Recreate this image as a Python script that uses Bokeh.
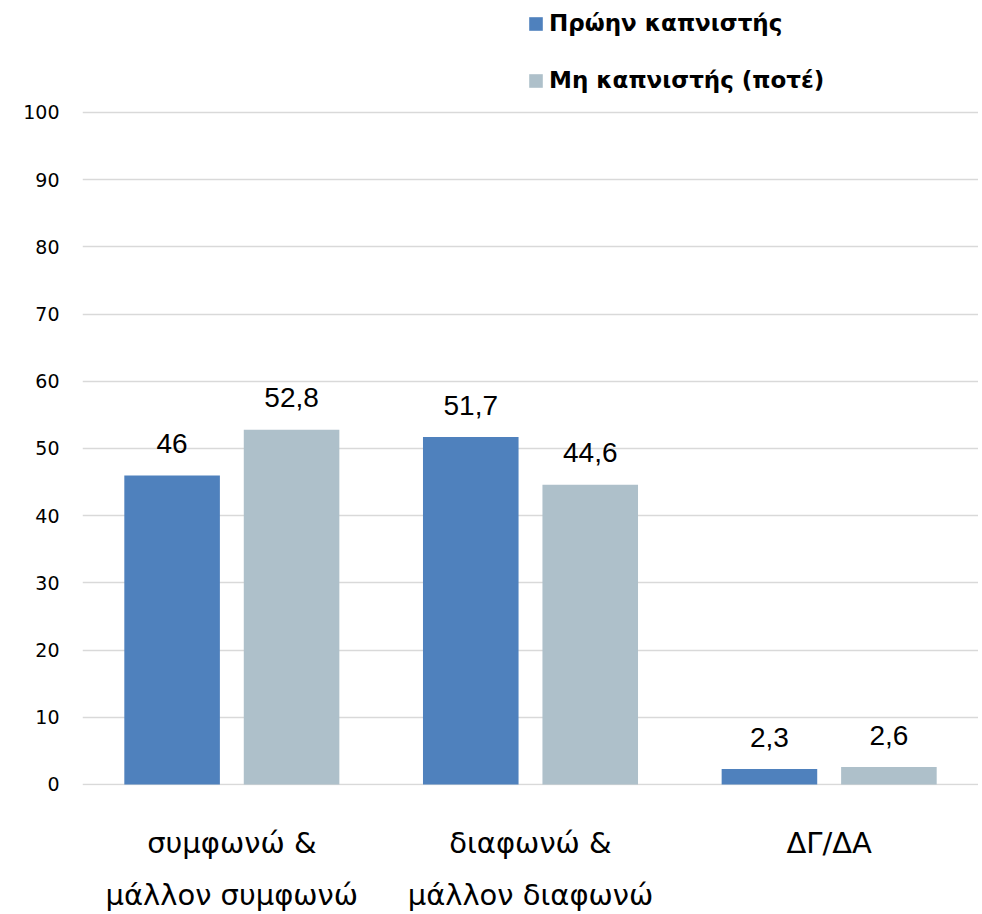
from bokeh.plotting import figure
from bokeh.models import (ColumnDataSource, FactorRange, Range1d, CategoricalAxis,
                          Legend, LegendItem, FixedTicker)
from bokeh.core.properties import value
from bokeh.transform import dodge
from bokeh.embed import file_html
from bokeh.resources import INLINE

# ---- data ----
label_line1 = ["συμφωνώ &", "διαφωνώ &", "ΔΓ/ΔΑ"]
label_line2 = ["μάλλον συμφωνώ", "μάλλον διαφωνώ", " "]
series_names = ["Πρώην καπνιστής", "Μη καπνιστής (ποτέ)"]
former_smokers = [46, 51.7, 2.3]
never_smokers = [52.8, 44.6, 2.6]
y_ticks = [0, 10, 20, 30, 40, 50, 60, 70, 80, 90, 100]

colors = ["#4F81BD", "#AEC0CA"]
FONT = "Liberation Sans"
WIDE = "DejaVu Sans"


def fmt(v):
    return ("%g" % v).replace(".", ",")


src = ColumnDataSource(data=dict(
    cat=label_line1,
    former=former_smokers,
    never=never_smokers,
    former_lbl=[fmt(v) for v in former_smokers],
    never_lbl=[fmt(v) for v in never_smokers],
))

# frame: 6.72 px per unit; extra room above 100 holds the legend
PX = 6.72
FRAME_H = 785
y_top = 100 + 112 / PX
p = figure(frame_width=896, frame_height=FRAME_H, x_range=FactorRange(*label_line1),
           y_range=Range1d(-0.15, y_top), output_backend="svg", toolbar_location=None,
           min_border_left=82, min_border_right=0, min_border_top=0,
           min_border_bottom=0, x_axis_location=None)
p.extra_x_ranges = {"line2": FactorRange(*label_line2)}
p.outline_line_color = None
p.background_fill_color = "white"
p.border_fill_color = "white"

r1 = p.vbar(x=dodge("cat", -0.2, range=p.x_range), top="former", width=0.32,
            source=src, color=colors[0], line_color=None)
r2 = p.vbar(x=dodge("cat", 0.2, range=p.x_range), top="never", width=0.32,
            source=src, color=colors[1], line_color=None)

for col, lbl, off in (("former", "former_lbl", -0.2), ("never", "never_lbl", 0.2)):
    p.text(x=dodge("cat", off, range=p.x_range), y=col, text=lbl,
           source=src, text_align="center", text_baseline="alphabetic", y_offset=-32,
           text_font=value(FONT), text_font_size="28px", text_color="#000000")

# grid
p.xgrid.grid_line_color = None
p.ygrid.grid_line_color = "#D9D9D9"
p.ygrid.grid_line_width = 1.5
p.ygrid.ticker = FixedTicker(ticks=y_ticks)
p.ygrid.level = "underlay"

# y axis
ya = p.yaxis[0]
ya.ticker = FixedTicker(ticks=y_ticks)
ya.axis_line_color = None
ya.major_tick_line_color = None
ya.minor_tick_line_color = None
ya.major_tick_out = 0
ya.major_tick_in = 0
ya.major_label_standoff = 23
ya.major_label_text_font = WIDE
ya.major_label_text_font_size = "19px"
ya.major_label_text_color = "#000000"


# x axes: two lines of category labels
def make_xaxis(standoff, range_name="default"):
    return CategoricalAxis(
        x_range_name=range_name,
        axis_line_color=None, major_tick_line_color=None, minor_tick_line_color=None,
        major_tick_out=0, major_tick_in=0, major_label_standoff=standoff,
        major_label_text_font=WIDE, major_label_text_font_size="29px",
        major_label_text_color="#000000",
    )


p.add_layout(make_xaxis(40), "below")
p.add_layout(make_xaxis(15, "line2"), "below")

# legend (inside the frame, above the 100 gridline)
legend = Legend(items=[LegendItem(label=series_names[0], renderers=[r1]),
                       LegendItem(label=series_names[1], renderers=[r2])],
                location=(445, FRAME_H - 8 - 85), orientation="vertical",
                glyph_width=17, glyph_height=17, label_height=17, spacing=31,
                label_standoff=5, padding=0, margin=0,
                label_text_font=WIDE, label_text_font_style="bold",
                label_text_font_size="23px", label_text_color="#000000",
                border_line_color=None, background_fill_alpha=0)
p.add_layout(legend, "center")

open("out.html", "w").write(file_html(p, INLINE))
